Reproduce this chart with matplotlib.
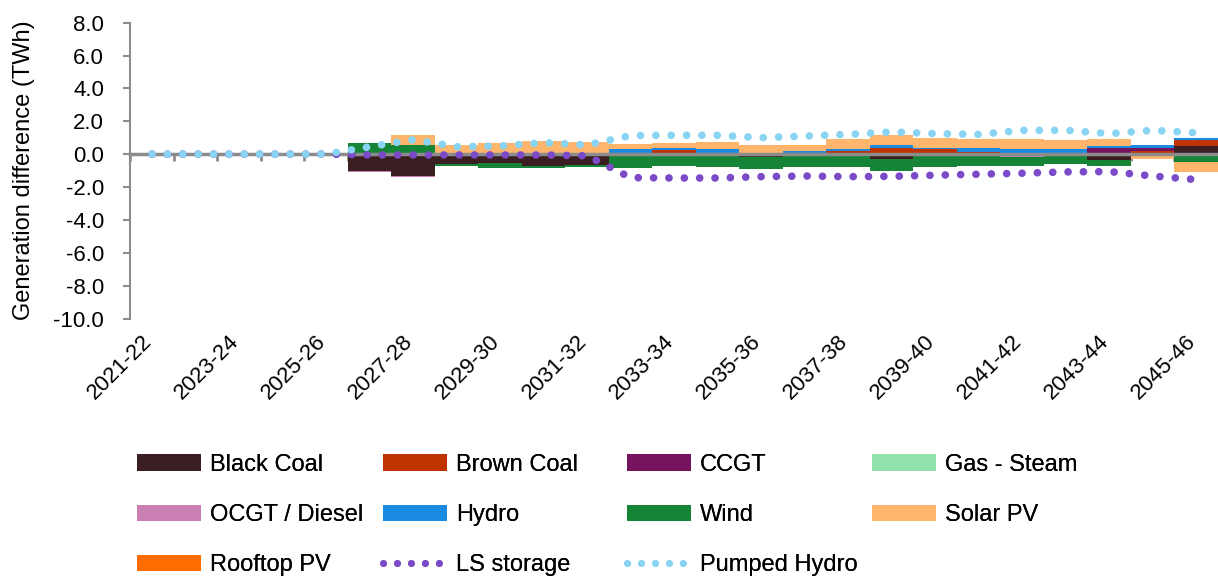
import numpy as np
import matplotlib
matplotlib.use('Agg')
import matplotlib.pyplot as plt
from matplotlib.patches import Patch
from matplotlib.lines import Line2D

plt.rcParams['font.family'] = ['Liberation Sans', 'DejaVu Sans']

years = ['2021-22', '2022-23', '2023-24', '2024-25', '2025-26', '2026-27', '2027-28',
         '2028-29', '2029-30', '2030-31', '2031-32', '2032-33', '2033-34', '2034-35',
         '2035-36', '2036-37', '2037-38', '2038-39', '2039-40', '2040-41', '2041-42',
         '2042-43', '2043-44', '2044-45', '2045-46']

# generation difference, TWh
black_coal = [0, 0, 0, 0, 0, -1.05, -1.35, -0.60, -0.55, -0.72, -0.68, 0, 0, 0, -0.15,
              0, 0, -0.30, 0, 0, -0.10, 0, -0.37, 0, 0.50]
brown_coal = [0, 0, 0, 0, 0, 0, 0, 0, 0, 0, 0, 0, 0.25, 0, 0,
              0, 0.18, 0.37, 0.30, 0.15, 0, 0, 0, 0.22, 0.37]
ccgt = [0, 0, 0, 0, 0, 0, 0, 0, 0, 0, 0, 0, 0, 0, 0,
        0, 0, 0, -0.10, 0, 0, 0, 0.37, 0.15, 0]
gas_steam = [0] * 25
ocgt = [0, 0, 0, 0, 0, -0.05, -0.05, 0, 0, 0, 0, 0, 0, 0, -0.03,
        0, 0, 0, 0, -0.10, -0.05, 0, 0, 0, -0.12]
hydro = [0, 0, 0, 0, 0, 0, 0, 0, 0, 0, 0, 0.30, 0.10, 0.30, 0,
         0.20, 0.12, 0.18, 0.10, 0.22, 0.30, 0.30, 0.13, 0.18, 0.14]
wind = [0, 0, 0, 0, 0, 0.65, 0.55, -0.15, -0.28, -0.14, -0.10, -0.85, -0.75, -0.80, -0.70,
        -0.80, -0.80, -0.72, -0.70, -0.65, -0.60, -0.60, -0.36, 0, -0.33]
solar = [0, 0, 0, 0, 0, 0.05, 0.63, 0.55, 0.70, 0.80, 0.72, 0.31, 0.30, 0.41, 0.55,
         0.35, 0.60, 0.63, 0.58, 0.54, 0.61, 0.55, 0.41, -0.30, -0.63]
rooftop = [0] * 25
ls_storage = [0, 0, 0, 0, 0, -0.05, -0.05, -0.05, -0.05, -0.05, -0.10, -1.43, -1.45, -1.45, -1.37,
              -1.33, -1.37, -1.35, -1.28, -1.22, -1.16, -1.08, -1.06, -1.33, -1.55]
pumped_hydro = [0, 0, 0, 0, 0, 0.45, 0.88, 0.45, 0.50, 0.70, 0.56, 1.13, 1.15, 1.15, 1.00,
                1.10, 1.20, 1.35, 1.25, 1.20, 1.45, 1.45, 1.25, 1.45, 1.30]

series = [
    ('Black Coal', black_coal, '#3B1E22'),
    ('Brown Coal', brown_coal, '#BF3300'),
    ('CCGT', ccgt, '#76135F'),
    ('Gas - Steam', gas_steam, '#8FE3AA'),
    ('OCGT / Diesel', ocgt, '#C97FB2'),
    ('Hydro', hydro, '#1A8BE0'),
    ('Wind', wind, '#168436'),
    ('Solar PV', solar, '#FFB56B'),
    ('Rooftop PV', rooftop, '#FF6D00'),
]
ls_color = '#7A4AC8'
ph_color = '#88D4F2'
grey = '#8C8C8C'
FS = 16
LFS = 17

fig = plt.figure(figsize=(12.18, 5.77), dpi=100)
ax = fig.add_axes([0.107, 0.448, 0.893, 0.5127])

x = np.arange(len(years))
pos = np.zeros(len(years))
neg = np.zeros(len(years))
for name, vals, col in series:
    v = np.array(vals, dtype=float)
    b = np.where(v >= 0, pos, neg)
    ax.bar(x, v, width=1.0, bottom=b, color=col, linewidth=0, zorder=2)
    pos += np.where(v >= 0, v, 0)
    neg += np.where(v < 0, v, 0)

dot = (0, (0.01, 2.0))
ax.plot(x, ls_storage, color=ls_color, lw=5.5, linestyle=dot, dash_capstyle='round', zorder=4)
ax.plot(x, pumped_hydro, color=ph_color, lw=5.5, linestyle=dot, dash_capstyle='round', zorder=5)

ax.set_xlim(-0.5, 24.3)
ax.set_ylim(-10, 8)
ax.set_yticks(np.arange(-10, 8.1, 2))
ax.set_yticklabels(['%.1f' % t for t in np.arange(-10, 8.1, 2)], fontsize=FS)
ax.set_ylabel('Generation difference (TWh)', fontsize=LFS, labelpad=13)

for s in ['top', 'right']:
    ax.spines[s].set_visible(False)
ax.spines['left'].set_color(grey)
ax.spines['left'].set_linewidth(1.5)
ax.spines['bottom'].set_position(('data', 0))
ax.spines['bottom'].set_color(grey)
ax.spines['bottom'].set_linewidth(2.5)
ax.spines['bottom'].set_zorder(3)
ax.set_xticks(np.arange(-0.5, 24.6, 1))
ax.tick_params(axis='x', direction='out', length=5, width=2, color=grey, labelbottom=False)
ax.tick_params(axis='y', direction='out', length=5, width=1.5, color=grey, pad=14)

for i in range(0, len(years), 2):
    ax.annotate(years[i], xy=(i, 0), xycoords=('data', 'axes fraction'),
                xytext=(-8, -9), textcoords='offset points', rotation=45,
                rotation_mode='anchor', ha='right', va='top', fontsize=FS)

handles = [Patch(facecolor=c, label=n) for n, _, c in series]
handles.append(Line2D([], [], color=ls_color, lw=5, linestyle=dot,
                      dash_capstyle='round', label='LS storage'))
handles.append(Line2D([], [], color=ph_color, lw=5, linestyle=dot,
                      dash_capstyle='round', label='Pumped Hydro'))

cols = [[0, 4, 8], [1, 5, 9], [2, 6, 10], [3, 7]]
col_x = [137, 383, 627, 872]
for cx, idx in zip(col_x, cols):
    leg = fig.legend(handles=[handles[i] for i in idx], loc='upper left',
                     bbox_to_anchor=(cx / 1218, 1 - 454 / 577), frameon=False,
                     fontsize=LFS, handlelength=2.7, handleheight=0.7,
                     handletextpad=0.4, labelspacing=1.19, borderpad=0,
                     borderaxespad=0)
    fig.add_artist(leg)

fig.savefig('out.png', dpi=100)
